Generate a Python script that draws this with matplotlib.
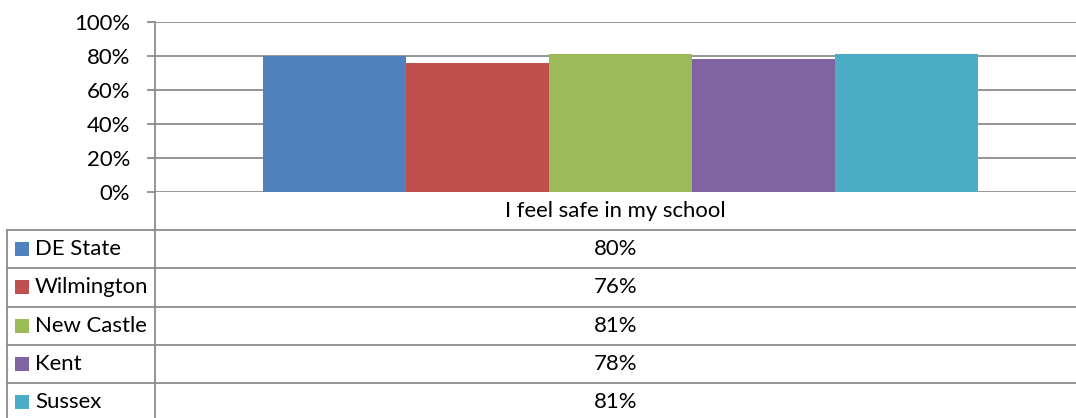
import matplotlib
matplotlib.use("Agg")
import matplotlib.pyplot as plt
from matplotlib.patches import Rectangle

category = "I feel safe in my school"
series = ["DE State", "Wilmington", "New Castle", "Kent", "Sussex"]
values = [0.80, 0.76, 0.81, 0.78, 0.81]
colors = ["#4F81BD", "#C0504D", "#9BBB59", "#8064A2", "#4BACC6"]
yticks = [0, 0.2, 0.4, 0.6, 0.8, 1.0]
ytick_labels = ["0%", "20%", "40%", "60%", "80%", "100%"]

plt.rcParams['font.family'] = ['Lato', 'DejaVu Sans']
W, H = 1076, 418
fig = plt.figure(figsize=(W / 100, H / 100), dpi=100)

grid_c = "#8c8c8c"
fs = 15.9

# bar axes in pixel layout
x0, x1 = 155, 1076
y_top, y_bot = 22, 192
ax = fig.add_axes([x0 / W, 1 - y_bot / H, (x1 - x0) / W, (y_bot - y_top) / H])
ax.set_xlim(-0.5, 0.5)
ax.set_ylim(0, 1)
bw = 0.1553
shift = 0.0054
n = len(series)
for i, (v, c) in enumerate(zip(values, colors)):
    ax.bar((i - (n - 1) / 2) * bw + shift, v, width=bw, color=c, zorder=3, linewidth=0)
ax.set_yticks(yticks)
ax.set_yticklabels(ytick_labels, fontsize=fs)
ax.set_xticks([])
ax.yaxis.grid(True, color=grid_c, linewidth=1.3, zorder=0)
for s in ["top", "right", "bottom"]:
    ax.spines[s].set_visible(False)
ax.spines["left"].set_color(grid_c)
ax.spines["left"].set_linewidth(1.3)
ax.tick_params(axis="y", length=6, width=1.3, color=grid_c, pad=12)
ax.set_facecolor("none")

# overlay axes for the data table, pixel coordinates
ov = fig.add_axes([0, 0, 1, 1])
ov.set_xlim(0, W)
ov.set_ylim(H, 0)
ov.axis("off")
ov.set_facecolor("none")

# continue y-axis line to bottom
ov.plot([x0, x0], [y_bot, H], color=grid_c, lw=1.3)
ov.text((x0 + x1) / 2, 211, category, ha="center", va="center", fontsize=fs)
row_tops = [230, 268.3, 306.6, 345, 383.3]
row_h = 38.3
tbl_left = 7
for rt in row_tops:
    ov.plot([tbl_left, x1], [rt, rt], color=grid_c, lw=1.3)
ov.plot([tbl_left, tbl_left], [row_tops[0], H], color=grid_c, lw=1.3)
for i, (s, v, c) in enumerate(zip(series, values, colors)):
    yc = row_tops[i] + row_h / 2
    ov.add_patch(Rectangle((15, yc - 7), 14, 14, color=c, lw=0))
    ov.text(35, yc, s, ha="left", va="center", fontsize=fs)
    ov.text((x0 + x1) / 2, yc, f"{round(v * 100)}%", ha="center", va="center", fontsize=fs)

fig.savefig("out.png", dpi=100)
